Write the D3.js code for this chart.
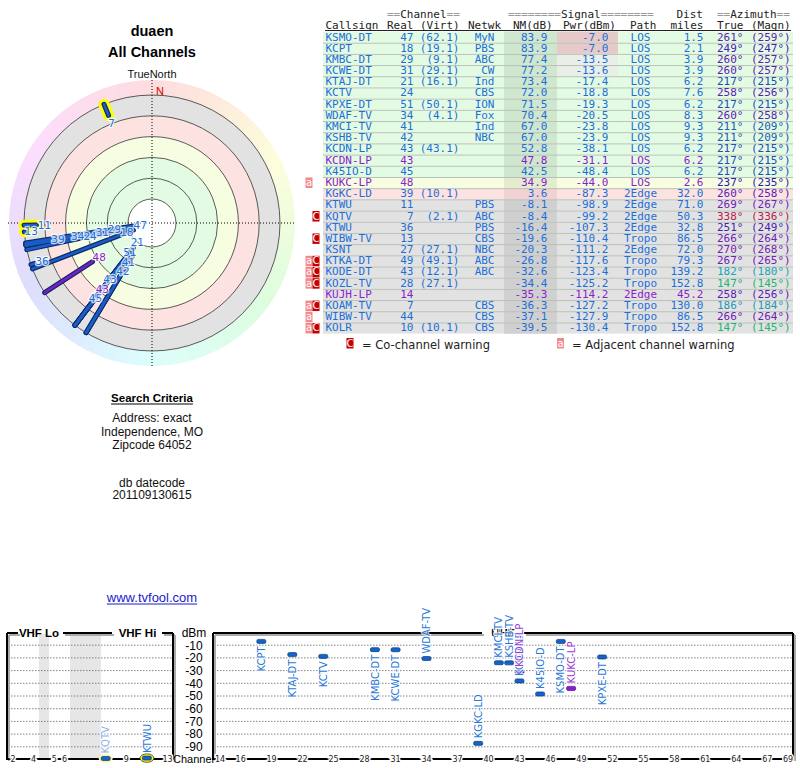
<!DOCTYPE html>
<html>
<head>
<meta charset="utf-8">
<script src="https://cdn.jsdelivr.net/npm/d3@7"></script>
<style>
  body { margin: 0; background: #fff; }
  svg { display: block; }
</style>
</head>
<body>
<svg id="chart" width="800" height="768"></svg>
<script>
// station data
var callsigns = ["KSMO-DT", "KCPT", "KMBC-DT", "KCWE-DT", "KTAJ-DT", "KCTV", "KPXE-DT", "WDAF-TV", "KMCI-TV", "KSHB-TV",
    "KCDN-LP", "KCDN-LP", "K45IO-D", "KUKC-LP", "KGKC-LD", "KTWU", "KQTV", "KTWU", "WIBW-TV", "KSNT",
    "KTKA-DT", "KODE-DT", "KOZL-TV", "KUJH-LP", "KOAM-TV", "WIBW-TV", "KOLR"];
var realCh = [47, 18, 29, 31, 21, 24, 51, 34, 41, 42, 43, 43, 45, 48, 39, 11, 7, 36, 13, 27, 49, 43, 28, 14, 7, 44, 10];
var virtCh = ["62.1", "19.1", "9.1", "29.1", "16.1", "", "50.1", "4.1", "", "", "43.1", "", "", "", "10.1", "", "2.1", "", "", "27.1",
    "49.1", "12.1", "27.1", "", "", "", "10.1"];
var networks = ["MyN", "PBS", "ABC", "CW", "Ind", "CBS", "ION", "Fox", "Ind", "NBC", "", "", "", "", "", "PBS", "ABC", "PBS", "CBS", "NBC",
    "ABC", "ABC", "", "", "CBS", "CBS", "CBS"];
var nmDb = [83.9, 83.9, 77.4, 77.2, 73.4, 72.0, 71.5, 70.4, 67.0, 67.0, 52.8, 47.8, 42.5, 34.9, 3.6, -8.1, -8.4, -16.4, -19.6, -20.3,
    -26.8, -32.6, -34.4, -35.3, -36.3, -37.1, -39.5];
var pwrDbm = [-7.0, -7.0, -13.5, -13.6, -17.4, -18.8, -19.3, -20.5, -23.8, -23.9, -38.1, -31.1, -48.4, -44.0, -87.3, -98.9, -99.2, -107.3, -110.4, -111.2,
    -117.6, -123.4, -125.2, -114.2, -127.2, -127.9, -130.4];
var paths = ["LOS", "LOS", "LOS", "LOS", "LOS", "LOS", "LOS", "LOS", "LOS", "LOS", "LOS", "LOS", "LOS", "LOS", "2Edge", "2Edge", "2Edge", "2Edge", "Tropo", "2Edge",
    "Tropo", "Tropo", "Tropo", "2Edge", "Tropo", "Tropo", "Tropo"];
var distMiles = [1.5, 2.1, 3.9, 3.9, 6.2, 7.6, 6.2, 8.3, 9.3, 9.3, 6.2, 6.2, 6.2, 2.6, 32.0, 71.0, 50.3, 32.8, 86.5, 72.0,
    79.3, 139.2, 152.8, 45.2, 130.0, 86.5, 152.8];
var azTrue = [261, 249, 260, 260, 217, 258, 217, 260, 211, 211, 217, 217, 217, 237, 260, 269, 338, 251, 266, 270, 267, 182, 147, 258, 186, 266, 147];
var azMagn = [259, 247, 257, 257, 215, 256, 215, 258, 209, 209, 215, 215, 215, 235, 258, 267, 336, 249, 264, 268, 265, 180, 145, 256, 184, 264, 145];
var warnings = ["", "", "", "", "", "", "", "", "", "", "", "", "", "a", "", "", "C", "", "C", "", "aC", "aC", "aC", "", "aC", "a", "aC"];
var analog = [0, 0, 0, 0, 0, 0, 0, 0, 0, 0, 0, 1, 0, 1, 0, 0, 0, 0, 0, 0, 0, 0, 0, 1, 0, 0, 0];

// ring levels (NM dB) and spectrum axis ticks
var nmRings = [-20, 0, 20, 40, 60, 80];
var dbmTicks = [-10, -20, -30, -40, -50, -60, -70, -80, -90];
var vhfTicks = [2, 4, 5, 6, 7, 9, 13];
var uhfTicks = [14, 16, 19, 22, 25, 28, 31, 34, 37, 40, 43, 46, 49, 52, 55, 58, 61, 64, 67, 69];

var blue = "#1c6fd8", purple = "#8a22cc";
var sans = "'Liberation Sans', Arial, sans-serif";
var mono = "'DejaVu Sans Mono', monospace";
var dvs = "'DejaVu Sans', sans-serif";

var svg = d3.select("#chart");
var n = callsigns.length;
var idx = d3.range(n);

function textColor(i) { return analog[i] ? purple : blue; }
function azColor(a) { return d3.hsl(a + 5, 0.7, 0.42).formatHex(); }
function zoneFill(v) {
    if (v >= 40) return "#e3fbe3";
    if (v >= 20) return "#f7fde0";
    if (v >= 0) return "#fde2e2";
    return "#e2e2e2";
}
function zoneDark(v) {
    if (v >= 40) return "#cfe6cf";
    if (v >= 20) return "#e4ecd0";
    if (v >= 0) return "#f0d2d2";
    return "#d0d0d0";
}

// ---------- titles ----------
svg.append("text").attr("x", 152).attr("y", 36).attr("text-anchor", "middle")
    .style("font", "bold 14.5px " + sans).text("duaen");
svg.append("text").attr("x", 152).attr("y", 57).attr("text-anchor", "middle")
    .style("font", "bold 14.5px " + sans).text("All Channels");
svg.append("text").attr("x", 152).attr("y", 78).attr("text-anchor", "middle")
    .style("font", "11px " + sans).attr("fill", "#111").text("TrueNorth");

// ---------- polar plot ----------
var cx = 152, cy = 223;
var rScale = d3.scaleLinear().domain([-20, 80]).range([128, 24]);
var polar = svg.append("g").attr("transform", `translate(${cx}, ${cy})`);

var arc = d3.arc();
polar.selectAll("path.hue")
    .data(d3.range(0, 360, 5))
    .enter().append("path")
    .attr("d", d => arc({innerRadius: 126, outerRadius: 143, startAngle: d * Math.PI / 180, endAngle: (d + 5.5) * Math.PI / 180}))
    .attr("fill", d => d3.hsl(d, 0.9, 0.93).formatHex());

// zone bands, outer first
polar.selectAll("circle.zone")
    .data(nmRings)
    .enter().append("circle")
    .attr("r", d => rScale(d))
    .attr("fill", d => d == 80 ? "#fff" : zoneFill(d + 1));

polar.selectAll("circle.ring")
    .data(nmRings)
    .enter().append("circle")
    .attr("r", d => rScale(d))
    .attr("fill", "none")
    .attr("stroke", "#333")
    .attr("stroke-width", 0.8);

// crosshair
polar.append("line").attr("x1", -144).attr("x2", 144).attr("y1", 0).attr("y2", 0)
    .attr("stroke", "#000").attr("stroke-dasharray", "1,2");
polar.append("line").attr("y1", -143).attr("y2", 143).attr("x1", 0).attr("x2", 0)
    .attr("stroke", "#000").attr("stroke-dasharray", "1,2");
svg.append("text").attr("x", 160).attr("y", 95).attr("text-anchor", "middle")
    .style("font", "11px " + sans).attr("fill", "#e00000").text("N");

function pt(az, r) {
    var a = az * Math.PI / 180;
    return [Math.sin(a) * r, -Math.cos(a) * r];
}

var shown = idx.filter(i => nmDb[i] >= -20);
var byWeak = shown.slice().sort((a, b) => nmDb[a] - nmDb[b]);

// yellow highlight for vhf stations
polar.selectAll("line.hl")
    .data(byWeak.filter(i => realCh[i] <= 13))
    .enter().append("line")
    .attr("x1", i => pt(azTrue[i], rScale(nmDb[i]))[0])
    .attr("y1", i => pt(azTrue[i], rScale(nmDb[i]))[1])
    .attr("x2", i => pt(azTrue[i], 128)[0])
    .attr("y2", i => pt(azTrue[i], 128)[1])
    .attr("stroke", "#ffff00").attr("stroke-width", 11).attr("stroke-linecap", "round");

polar.selectAll("line.edge")
    .data(byWeak)
    .enter().append("line")
    .attr("x1", i => pt(azTrue[i], rScale(nmDb[i]))[0])
    .attr("y1", i => pt(azTrue[i], rScale(nmDb[i]))[1])
    .attr("x2", i => pt(azTrue[i], 128)[0])
    .attr("y2", i => pt(azTrue[i], 128)[1])
    .attr("stroke", "#0a2a6a").attr("stroke-width", 5).attr("stroke-linecap", "round");
polar.selectAll("line.core")
    .data(byWeak)
    .enter().append("line")
    .attr("x1", i => pt(azTrue[i], rScale(nmDb[i]))[0])
    .attr("y1", i => pt(azTrue[i], rScale(nmDb[i]))[1])
    .attr("x2", i => pt(azTrue[i], 128)[0])
    .attr("y2", i => pt(azTrue[i], 128)[1])
    .attr("stroke", i => analog[i] ? "#7a1fc0" : "#1a5cc8").attr("stroke-width", 2.6).attr("stroke-linecap", "round");

// labels: strongest first, pushed outward when they collide
var placed = [];
var labelPos = [];
shown.slice().sort((a, b) => nmDb[b] - nmDb[a]).forEach(function(i) {
    var r = rScale(nmDb[i]) - 8;
    var p = pt(azTrue[i], r), guard = 0;
    while (placed.some(q => Math.abs(q[0] - p[0]) < 12 && Math.abs(q[1] - p[1]) < 9) && guard++ < 100) {
        r += 1.5;
        p = pt(azTrue[i], r);
    }
    placed.push(p);
    labelPos.push({i: i, x: p[0], y: p[1]});
});
polar.selectAll("text.lbl")
    .data(labelPos.slice().reverse())
    .enter().append("text")
    .attr("x", d => d.x).attr("y", d => d.y).attr("dy", "0.36em")
    .attr("text-anchor", "middle")
    .style("font", "10.5px " + dvs)
    .attr("fill", d => textColor(d.i))
    .attr("stroke", "rgba(255,255,255,0.75)").attr("stroke-width", 2.5)
    .attr("paint-order", "stroke")
    .text(d => realCh[d.i]);

// ---------- search criteria ----------
var sc = svg.append("text").attr("x", 152).attr("y", 402).attr("text-anchor", "middle")
    .style("font", "bold 11.5px " + sans).text("Search Criteria");
var scw = sc.node().getComputedTextLength();
svg.append("line").attr("x1", 152 - scw / 2).attr("x2", 152 + scw / 2).attr("y1", 404).attr("y2", 404)
    .attr("stroke", "#000").attr("stroke-width", 1);
var infoLines = [["Address: exact", 422], ["Independence, MO", 436], ["Zipcode 64052", 449], ["db datecode", 487], ["201109130615", 499]];
svg.selectAll("text.info")
    .data(infoLines)
    .enter().append("text")
    .attr("x", 152).attr("y", d => d[1]).attr("text-anchor", "middle")
    .style("font", "12px " + sans).attr("fill", "#111")
    .text(d => d[0]);
var link = svg.append("text").attr("x", 152).attr("y", 602).attr("text-anchor", "middle")
    .style("font", "13px " + sans).attr("fill", "#1a1acc").text("www.tvfool.com");
var lw = link.node().getComputedTextLength();
svg.append("line").attr("x1", 152 - lw / 2).attr("x2", 152 + lw / 2).attr("y1", 604).attr("y2", 604)
    .attr("stroke", "#1a1acc").attr("stroke-width", 1);

// ---------- table ----------
var rowH = 11.19, row0 = 31.5;
var table = svg.append("g");
function rowTop(i) { return row0 + i * rowH; }

table.selectAll("rect.row")
    .data(idx).enter().append("rect")
    .attr("x", 323).attr("width", 470).attr("y", rowTop).attr("height", rowH)
    .attr("fill", i => zoneFill(nmDb[i]));
table.selectAll("rect.nm")
    .data(idx).enter().append("rect")
    .attr("x", 504).attr("width", 53).attr("y", rowTop).attr("height", rowH)
    .attr("fill", i => zoneDark(nmDb[i]));
table.selectAll("rect.pwr")
    .data(idx.filter(i => pwrDbm[i] >= -15)).enter().append("rect")
    .attr("x", 557).attr("width", 61).attr("y", rowTop).attr("height", rowH)
    .attr("fill", i => pwrDbm[i] >= -10 ? "#e6c9c9" : "#e9eee9");
table.selectAll("line.sep")
    .data(idx.slice(1)).enter().append("line")
    .attr("x1", 323).attr("x2", 793).attr("y1", i => rowTop(i) + 0.5).attr("y2", i => rowTop(i) + 0.5)
    .attr("stroke", "#b9c2b9").attr("stroke-width", 1);

// header
var hdr = table.append("g").style("font", "11px " + mono).attr("fill", "#222");
function groupHeader(x, pre, word, post) {
    var t = hdr.append("text").attr("x", x).attr("y", 18);
    t.append("tspan").attr("fill", "#999").text(pre);
    t.append("tspan").text(word);
    t.append("tspan").attr("fill", "#999").text(post);
}
groupHeader(387, "==", "Channel", "==");
groupHeader(508, "========", "Signal", "========");
groupHeader(717, "==", "Azimuth", "==");
hdr.append("text").attr("x", 703).attr("y", 18).attr("text-anchor", "end").text("Dist");
var heads = [["Callsign", 325.5, "start"], ["Real", 413.5, "end"], ["(Virt)", 420, "start"], ["Netwk", 468, "start"],
    ["NM(dB)", 513, "start"], ["Pwr(dBm)", 563, "start"], ["Path", 630, "start"], ["miles", 703.5, "end"],
    ["True", 717, "start"], ["(Magn)", 751, "start"]];
hdr.selectAll("text.h2")
    .data(heads).enter().append("text")
    .attr("x", d => d[1]).attr("y", 29).attr("text-anchor", d => d[2])
    .text(d => d[0]);
table.append("line").attr("x1", 325).attr("x2", 791).attr("y1", 30.5).attr("y2", 30.5)
    .attr("stroke", "#222").attr("stroke-width", 1);

// body columns
var cols = [
    {x: 325.5, anchor: "start", text: i => callsigns[i]},
    {x: 413.5, anchor: "end", text: i => realCh[i]},
    {x: 459.5, anchor: "end", text: i => virtCh[i] ? "(" + virtCh[i] + ")" : ""},
    {x: 494.5, anchor: "end", text: i => networks[i]},
    {x: 547.5, anchor: "end", text: i => nmDb[i].toFixed(1)},
    {x: 608.5, anchor: "end", text: i => pwrDbm[i].toFixed(1)},
    {x: 640.5, anchor: "middle", text: i => paths[i]},
    {x: 703.5, anchor: "end", text: i => distMiles[i].toFixed(1)}
];
var body = table.append("g").style("font", "11px " + mono);
cols.forEach(function(c) {
    body.selectAll(null)
        .data(idx).enter().append("text")
        .attr("x", c.x).attr("y", i => rowTop(i) + 9)
        .attr("text-anchor", c.anchor)
        .attr("fill", textColor)
        .text(c.text);
});
body.selectAll(null)
    .data(idx).enter().append("text")
    .attr("x", 717).attr("y", i => rowTop(i) + 9)
    .attr("fill", i => azColor(azTrue[i]))
    .text(i => azTrue[i] + "\u00b0");
body.selectAll(null)
    .data(idx).enter().append("text")
    .attr("x", 751).attr("y", i => rowTop(i) + 9)
    .attr("fill", i => azColor(azTrue[i]))
    .text(i => "(" + azMagn[i] + "\u00b0)");

// warning badges
function badge(g, x, y, letter) {
    g.append("rect").attr("x", x).attr("y", y).attr("width", 7).attr("height", 10.5)
        .attr("fill", letter == "a" ? "#f28a8a" : "#c40000");
    g.append("text").attr("x", x + 3.5).attr("y", y + 8.5).attr("text-anchor", "middle")
        .style("font", "10px " + dvs).attr("fill", "#fff").text(letter);
}
var badges = table.append("g");
idx.forEach(function(i) {
    if (warnings[i].indexOf("a") >= 0) badge(badges, 305.5, rowTop(i) + 0.5, "a");
    if (warnings[i].indexOf("C") >= 0) badge(badges, 312.5, rowTop(i) + 0.5, "C");
});

// legend
badge(badges, 346.5, 338, "C");
svg.append("text").attr("x", 362).attr("y", 348.5).style("font", "11.5px " + dvs).attr("fill", "#222")
    .text("= Co-channel warning");
badge(badges, 557, 338, "a");
svg.append("text").attr("x", 572).attr("y", 348.5).style("font", "11.5px " + dvs).attr("fill", "#222")
    .text("= Adjacent channel warning");

// ---------- spectrum ----------
var yPwr = d3.scaleLinear().domain([0, -100]).range([632.5, 759.5]);
var xUhf = d3.scaleLinear().domain([14, 69]).range([220, 788]);
var xVhf = d3.scaleLinear().domain([2, 4, 5, 6, 7, 13]).range([13, 33.6, 54.2, 64.5, 105.7, 167.5]);
function chX(ch) { return ch <= 13 ? xVhf(ch) : xUhf(ch); }

var spec = svg.append("g");
// gaps in vhf band
spec.append("rect").attr("x", 39).attr("width", 10).attr("y", 634).attr("height", 125).attr("fill", "#e6e6e6");
spec.append("rect").attr("x", 70).attr("width", 31).attr("y", 634).attr("height", 125).attr("fill", "#e6e6e6");

// grid
[[8, 172], [214, 792]].forEach(function(span) {
    spec.selectAll(null)
        .data(dbmTicks).enter().append("line")
        .attr("x1", span[0]).attr("x2", span[1])
        .attr("y1", d => yPwr(d)).attr("y2", d => yPwr(d))
        .attr("stroke", "#666").attr("stroke-width", 0.8).attr("stroke-dasharray", "1.5,1.5");
});

// frames with a grey shadow
var frameSegs = [
    [7, 633, 18, 633], [63, 633, 112, 633], [162, 633, 173, 633], [7, 633, 7, 759], [173, 633, 173, 759],
    [213, 633, 482, 633], [524, 633, 793, 633], [213, 633, 213, 759], [793, 633, 793, 759]
];
spec.selectAll("line.shadow")
    .data(frameSegs).enter().append("line")
    .attr("x1", d => d[0] + 2).attr("y1", d => d[1] + 2).attr("x2", d => d[2] + 2).attr("y2", d => d[3] + 2)
    .attr("stroke", "#aaa").attr("stroke-width", 2);
spec.selectAll("line.frame")
    .data(frameSegs).enter().append("line")
    .attr("x1", d => d[0]).attr("y1", d => d[1]).attr("x2", d => d[2]).attr("y2", d => d[3])
    .attr("stroke", "#000").attr("stroke-width", 2);
spec.append("line").attr("x1", 6).attr("x2", 174).attr("y1", 759).attr("y2", 759).attr("stroke", "#000").attr("stroke-width", 2);
spec.append("line").attr("x1", 212).attr("x2", 794).attr("y1", 759).attr("y2", 759).attr("stroke", "#000").attr("stroke-width", 2);

spec.append("text").attr("x", 39).attr("y", 637).attr("text-anchor", "middle").style("font", "bold 11.5px " + sans).text("VHF Lo");
spec.append("text").attr("x", 137.5).attr("y", 637).attr("text-anchor", "middle").style("font", "bold 11.5px " + sans).text("VHF Hi");
spec.append("text").attr("x", 503).attr("y", 637).attr("text-anchor", "middle").style("font", "bold 11.5px " + sans).text("UHF");

// dBm axis labels
spec.append("text").attr("x", 194).attr("y", 636.5).attr("text-anchor", "middle").style("font", "12px " + sans).text("dBm");
spec.selectAll("text.dbm")
    .data(dbmTicks).enter().append("text")
    .attr("x", 194).attr("y", d => yPwr(d)).attr("dy", "0.36em")
    .attr("text-anchor", "middle").style("font", "12px " + sans)
    .text(d => d);
spec.append("text").attr("x", 193.5).attr("y", 762.5).attr("text-anchor", "middle").style("font", "11px " + sans).text("Channel");

// channel ticks on the axis
spec.selectAll("text.ch")
    .data(vhfTicks.concat(uhfTicks)).enter().append("text")
    .attr("x", d => chX(d)).attr("y", 762)
    .attr("text-anchor", "middle").style("font", "8px " + dvs).attr("fill", "#222")
    .attr("stroke", "#fff").attr("stroke-width", 3).attr("paint-order", "stroke")
    .text(d => d);

// station marks
var onChart = idx.filter(i => pwrDbm[i] >= -100);
spec.selectAll("ellipse.hl")
    .data(onChart.filter(i => realCh[i] <= 13)).enter().append("ellipse")
    .attr("cx", i => chX(realCh[i])).attr("cy", i => yPwr(pwrDbm[i]))
    .attr("rx", 7).attr("ry", 4.2)
    .attr("fill", i => warnings[i].indexOf("C") >= 0 ? "#fbf7a0" : "#ffff00")
    .attr("stroke", i => warnings[i].indexOf("C") >= 0 ? "none" : "#333").attr("stroke-width", 0.8);
spec.selectAll("rect.mark")
    .data(onChart).enter().append("rect")
    .attr("x", i => chX(realCh[i]) - 4.5).attr("y", i => yPwr(pwrDbm[i]) - 2)
    .attr("width", 9).attr("height", 4).attr("rx", 1.5)
    .attr("fill", i => analog[i] ? "#8a22cc" : "#1464c8")
    .attr("stroke", i => analog[i] ? "#4a0a80" : "#0a3a80").attr("stroke-width", 0.7);

// vertical station labels: below the mark when strong, above otherwise
spec.selectAll("text.st")
    .data(onChart).enter().append("text")
    .attr("transform", function(i) {
        var y = pwrDbm[i] > -20 ? yPwr(pwrDbm[i]) + 5 : yPwr(pwrDbm[i]) - 5;
        return `translate(${chX(realCh[i])}, ${y}) rotate(-90)`;
    })
    .attr("dy", "0.36em")
    .attr("text-anchor", i => pwrDbm[i] > -20 ? "end" : "start")
    .style("font", "10px " + dvs)
    .attr("fill", i => warnings[i].indexOf("C") >= 0 ? "#8fb2e6" : (analog[i] ? "#9a3ad8" : "#2a78d8"))
    .attr("stroke", "rgba(255,255,255,0.8)").attr("stroke-width", 2).attr("paint-order", "stroke")
    .text(i => callsigns[i]);
</script>
</body>
</html>
